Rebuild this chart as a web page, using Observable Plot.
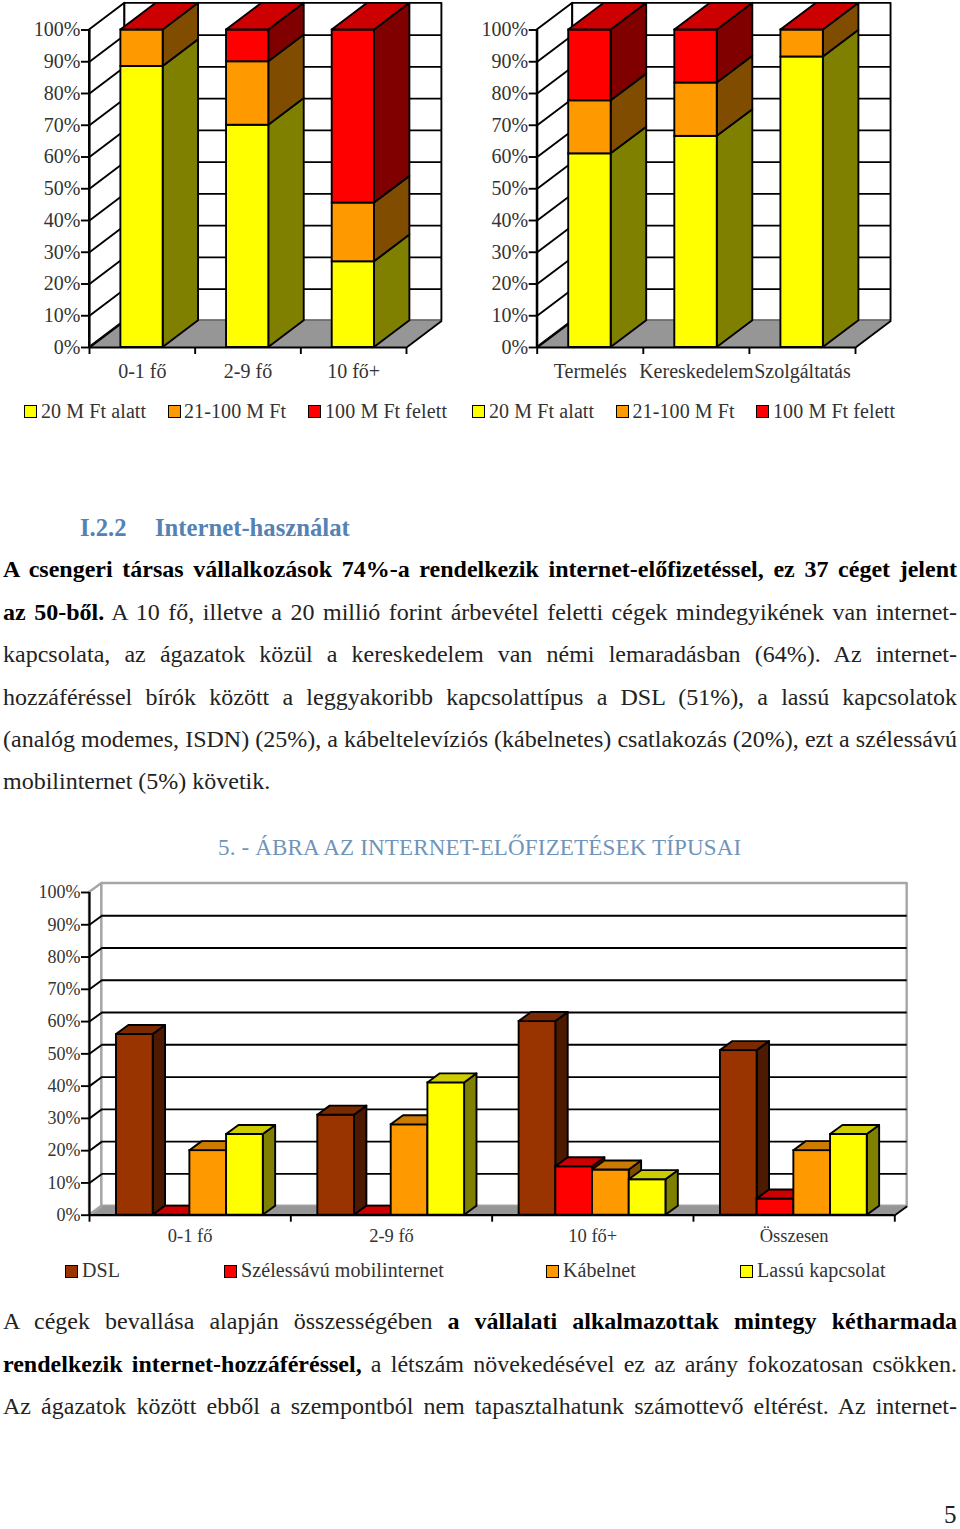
<!DOCTYPE html>
<html lang="hu">
<head>
<meta charset="utf-8">
<script src="https://cdn.jsdelivr.net/npm/d3@7"></script>
<script src="https://cdn.jsdelivr.net/npm/@observablehq/plot@0.6"></script>
<style>
html,body{margin:0;padding:0;background:#fff;}
body{position:relative;width:960px;height:1529px;overflow:hidden;font-family:"Liberation Serif",serif;color:#222;}
.chart{position:absolute;}
.chart svg{overflow:visible;display:block;}
.t{position:absolute;line-height:30px;}
.sw{position:absolute;box-sizing:border-box;width:13px;height:13px;border:1.8px solid #000;}
b{color:#000;}
</style>
</head>
<body>
<script>
// ---- data ----
const ticks = [0,10,20,30,40,50,60,70,80,90,100];
const sizeCats = ["0-1 fő","2-9 fő","10 fő+"];
const sizeYellow = [88.5,70,27];
const sizeOrange = [100,90,45.5];
const sizeRed = [100,100,100];
const sectorCats = ["Termelés","Kereskedelem","Szolgáltatás"];
const sectorYellow = [61,66.5,91.5];
const sectorOrange = [77.7,83.3,100];
const sectorRed = [100,100,100];
const netCats = ["0-1 fő","2-9 fő","10 fő+","Összesen"];
const netDSL = [56,31,60,51];
const netMobile = [0,0,15,5];
const netCable = [20,28,14,20];
const netSlow = [25,41,11,25];
const stackLegend = ["20 M Ft alatt","21-100 M Ft","100 M Ft felett"];
const netLegend = ["DSL","Szélessávú mobilinternet","Kábelnet","Lassú kapcsolat"];
const palette = {
  yellow:{front:"#ffff00",side:"#808000",top:"#cccc00"},
  orange:{front:"#ff9900",side:"#804d00",top:"#cc7a00"},
  red:{front:"#ff0000",side:"#800000",top:"#cc0000"},
  brown:{front:"#993300",side:"#4d1a00",top:"#7a2900"}
};

// ---- helpers ----
const SW = 1.9;
function quad(fill, stroke, sw, a, b, c, d){
  return Plot.area([{x1:a[0],y1:a[1],x2:d[0],y2:d[1]},{x1:b[0],y1:b[1],x2:c[0],y2:c[1]}],
    {x1:"x1",y1:"y1",x2:"x2",y2:"y2",fill,stroke,strokeWidth:sw,strokeLinejoin:"round"});
}
function topFace(x0,x1,hi,dx,dy,col){
  return quad(col.top,"#000",SW,[x0,hi],[x1,hi],[x1+dx,hi+dy],[x0+dx,hi+dy]);
}
function box(x0,x1,lo,hi,dx,dy,col){
  return [
    quad(col.side,"#000",SW,[x1,lo],[x1+dx,lo+dy],[x1+dx,hi+dy],[x1,hi]),
    Plot.rect([{x0,x1,lo,hi}],{x1:"x0",x2:"x1",y1:"lo",y2:"hi",fill:col.front,stroke:"#000",strokeWidth:SW})
  ];
}
function frame(cats,dx,dy,wall,barMarks,o){
  const n = cats.length, centers = cats.map((_,i)=>i+0.5), edges = d3.range(n+1);
  const inner = ticks.filter(t=>t>0 && t<100);
  return Plot.plot({
    width:o.width,height:o.height,marginLeft:o.left,marginRight:o.width-o.left-o.plotW,
    marginTop:o.top,marginBottom:o.height-o.top-o.plotH,
    x:{domain:[0,n],axis:null},y:{domain:[0,100],axis:null},
    style:{fontFamily:"Liberation Serif",background:"transparent",overflow:"visible"},
    marks:[
      quad("#fff",wall,o.wallWidth,[0,0],[dx,dy],[dx,100+dy],[0,100]),
      quad("#fff",wall,o.wallWidth,[dx,dy],[n+dx,dy],[n+dx,100+dy],[dx,100+dy]),
      Plot.ruleY(inner,{y:d=>d+dy,x1:()=>dx,x2:()=>n+dx,stroke:"#000",strokeWidth:SW}),
      Plot.link(inner,{x1:()=>0,y1:d=>d,x2:()=>dx,y2:d=>d+dy,stroke:"#000",strokeWidth:SW}),
      quad("#969696","none",0,[0,0],[n,0],[n+dx,dy],[dx,dy]),
      Plot.link([0],{x1:()=>n,y1:()=>0,x2:()=>n+dx,y2:()=>dy,stroke:"#000",strokeWidth:SW}),
      Plot.link([0],{x1:()=>0,y1:()=>0,x2:()=>dx,y2:()=>dy,stroke:wall,strokeWidth:SW}),
      ...barMarks,
      Plot.ruleY([0],{x1:()=>0,x2:()=>n,stroke:"#000",strokeWidth:2.2}),
      Plot.ruleX([0],{y1:()=>0,y2:()=>100,stroke:"#000",strokeWidth:2.2}),
      Plot.axisY({ticks,tickSize:8,tickPadding:1,tickFormat:d=>d+"%",fontSize:o.tickFont,stroke:"#000",strokeWidth:SW,fill:"#333",label:null}),
      Plot.axisX({ticks:edges,tickSize:7,tickFormat:()=>"",stroke:"#000",strokeWidth:SW,label:null}),
      Plot.axisX({ticks:centers,tickSize:0,tickPadding:o.labelPad,tickFormat:d=>cats[Math.floor(d)],fontSize:o.labelFont,fill:"#333",label:null})
    ]
  });
}
function place(svg,left,top){
  const d=document.createElement("div");d.className="chart";d.style.left=left+"px";d.style.top=top+"px";
  d.appendChild(svg);document.body.appendChild(d);
}
function stacked(cats,series,left,plotW){
  const dx=0.335,dy=8.4,off=0.297,w=0.4,cols=[palette.yellow,palette.orange,palette.red],m=[];
  cats.forEach((_,i)=>{
    let lo=0;
    series.forEach((s,j)=>{
      const hi=s[i];
      if(hi>lo){m.push(...box(i+off,i+off+w,lo,hi,dx,dy,cols[j]));lo=hi;}
    });
    m.push(topFace(i+off,i+off+w,lo,dx,dy,palette.red));
  });
  return frame(cats,dx,dy,"#000",m,{width:470,height:395,left,top:29.5,plotW,plotH:317.5,wallWidth:SW,tickFont:20,labelFont:20,labelPad:16});
}
place(stacked(sizeCats,[sizeYellow,sizeOrange,sizeRed],89,317),0,0);
place(stacked(sectorCats,[sectorYellow,sectorOrange,sectorRed],66.7,318.3),470,0);

// clustered 3-D columns
(function(){
  const dx=0.0615,dy=2.8,off=0.134,w=0.1823,m=[];
  const series=[[netDSL,palette.brown],[netMobile,palette.red],[netCable,palette.orange],[netSlow,palette.yellow]];
  netCats.forEach((_,i)=>series.forEach(([s,c],j)=>{
    const x0=i+off+j*w; m.push(...box(x0,x0+w,0,s[i],dx,dy,c),topFace(x0,x0+w,s[i],dx,dy,c));
  }));
  place(frame(netCats,dx,dy,"#a6a6a6",m,{width:960,height:370,left:89,top:22,plotW:805.3,plotH:322.7,wallWidth:2.4,tickFont:18,labelFont:18.5,labelPad:14}),0,870);
})();

// ---- text ----
const FS=24;
function text(x,base,html,opt={}){
  const fs=opt.fs||FS, el=document.createElement("div");
  el.className="t";el.innerHTML=html;el.style.left=x+"px";
  el.style.top=(base-15-0.3375*fs)+"px";el.style.fontSize=fs+"px";
  if(opt.width){el.style.width=opt.width+"px";el.style.textAlignLast="justify";el.style.textAlign="justify";}
  else el.style.whiteSpace="nowrap";
  if(opt.color)el.style.color=opt.color;
  if(opt.weight)el.style.fontWeight=opt.weight;
  if(opt.spacing)el.style.letterSpacing=opt.spacing+"px";
  if(opt.lh){el.style.lineHeight=opt.lh+"px";el.style.top=(base-opt.lh/2-0.3375*fs)+"px";}
  document.body.appendChild(el);
}
function legend(items,cols,xs,base){
  items.forEach((s,i)=>{
    const sw=document.createElement("div");sw.className="sw";sw.style.left=xs[i][0]+"px";
    sw.style.top=(base-12.5)+"px";sw.style.background=cols[i].front;document.body.appendChild(sw);
    text(xs[i][1],base,s,{fs:20,color:"#333",spacing:0.1});
  });
}
const c3=[palette.yellow,palette.orange,palette.red];
legend(stackLegend,c3,[[23.5,41],[167.5,184],[307.5,325]],417.5);
legend(stackLegend,c3,[[471.5,489],[615.5,632.5],[755.5,773]],417.5);
legend(netLegend,[palette.brown,palette.red,palette.orange,palette.yellow],[[65,82],[224,241],[545.5,563],[740,757]],1277);

text(80,536,"I.2.2",{color:"#5482b4",weight:"bold",fs:24.7});
text(155,536,"Internet-használat",{color:"#5482b4",weight:"bold",fs:24.7});
const W=954;
text(3,577,"<b>A csengeri társas vállalkozások 74%-a rendelkezik internet-előfizetéssel, ez 37 céget jelent</b>",{width:W});
text(3,620,"<b>az 50-ből.</b> A 10 fő, illetve a 20 millió forint árbevétel feletti cégek mindegyikének van internet-",{width:W});
text(3,662,"kapcsolata, az ágazatok közül a kereskedelem van némi lemaradásban (64%). Az internet-",{width:W});
text(3,705,"hozzáféréssel bírók között a leggyakoribb kapcsolattípus a DSL (51%), a lassú kapcsolatok",{width:W});
text(3,747,"(analóg modemes, ISDN) (25%), a kábeltelevíziós (kábelnetes) csatlakozás (20%), ezt a szélessávú",{width:W});
text(3,789.5,"mobilinternet (5%) követik.");
text(218,856,"5. - ÁBRA AZ INTERNET-ELŐFIZETÉSEK TÍPUSAI",{color:"#6f94ba",fs:23,spacing:0.17});
text(3,1329,"A cégek bevallása alapján összességében <b>a vállalati alkalmazottak mintegy kétharmada</b>",{width:W});
text(3,1372,"<b>rendelkezik internet-hozzáféréssel,</b> a létszám növekedésével ez az arány fokozatosan csökken.",{width:W});
text(3,1414,"Az ágazatok között ebből a szempontból nem tapasztalhatunk számottevő eltérést. Az internet-",{width:W});
text(944,1523.5,"5",{fs:25,lh:24});
</script>
</body>
</html>
